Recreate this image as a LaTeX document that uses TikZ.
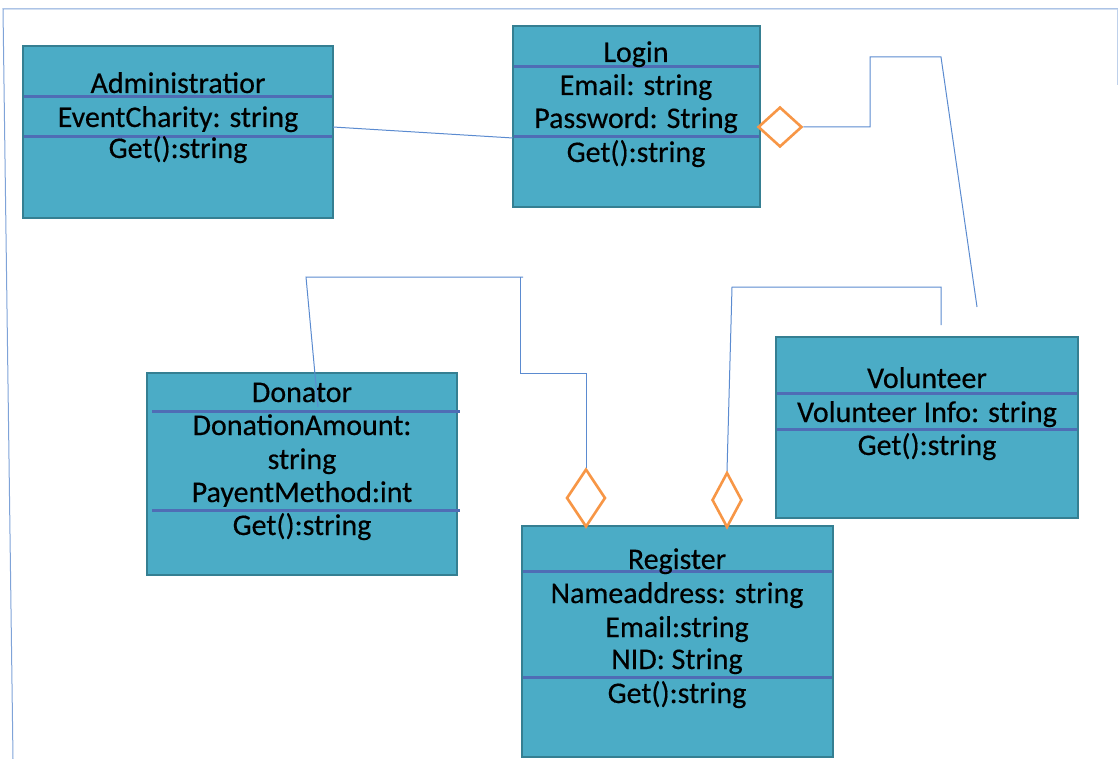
\documentclass[tikz,border=0pt]{standalone}
\usepackage{fontspec}
\setmainfont{Carlito}[FakeBold=0.4]
\usetikzlibrary{shapes.geometric}
\definecolor{boxfill}{HTML}{4BACC6}
\definecolor{boxborder}{HTML}{357F92}
\definecolor{sepblue}{HTML}{4F6DB5}
\definecolor{connblue}{HTML}{5B8BD0}
\definecolor{aggorange}{HTML}{F79646}
\definecolor{frameblue}{HTML}{7FA3D8}
\begin{document}
\begin{tikzpicture}[x=1pt,y=-1pt,
  cls/.style={draw=boxborder,line width=2.5pt,fill=boxfill,inner sep=0pt},
  sepline/.style={draw=sepblue,line width=3pt},
  conn/.style={draw=connblue,line width=1pt},
  agg/.style={diamond,draw=aggorange,line width=2.6pt,fill=white,inner sep=0pt},
  txt/.style={anchor=base,inner sep=0pt,font=\fontsize{30}{34}\selectfont,text=black},
  frame/.style={draw=frameblue,line width=1pt}]
\useasboundingbox (0,0) rectangle (1118,759);
% frame
\coordinate (f1) at (3,9);
\coordinate (f2) at (1118,9);
\coordinate (f3) at (13,759);
\draw[frame] (f3) -- (f1) -- (f2);
\draw[draw=frameblue!50,line width=1pt] (1117,9) -- (1117,85);
% boxes
\node[cls,minimum width=310,minimum height=172] (adm) at (178,132) {};
\node[cls,minimum width=247,minimum height=181] (login) at (636.5,116.5) {};
\node[cls,minimum width=310,minimum height=202] (don) at (302,474) {};
\node[cls,minimum width=311,minimum height=231] (reg) at (677.5,641.5) {};
\node[cls,minimum width=302,minimum height=181] (vol) at (927,427.5) {};
% separators
\draw[sepline] (24,97) -- (332,97);
\draw[sepline] (24,137) -- (332,137);
\draw[sepline] (514,67) -- (759,67);
\draw[sepline] (514,137) -- (759,137);
\draw[sepline] (152,411) -- (460,411);
\draw[sepline] (152,510) -- (460,510);
\draw[sepline] (523,571) -- (832,571);
\draw[sepline] (523,677) -- (832,677);
\draw[sepline] (777,393) -- (1077,393);
\draw[sepline] (777,429) -- (1077,429);
% texts
\node[txt] (t1) at (178,93) {Administratior};
\node[txt] (t2) at (178,127) {EventCharity: string};
\node[txt] (t3) at (178,158) {Get():string};
\node[txt] (t4) at (636,62) {Login};
\node[txt] (t5) at (636,95) {Email: string};
\node[txt] (t6) at (636,128) {Password: String};
\node[txt] (t7) at (636,162) {Get():string};
\node[txt] (t8) at (302,402) {Donator};
\node[txt] (t9) at (302,435) {DonationAmount:};
\node[txt] (t10) at (302,469) {string};
\node[txt] (t11) at (302,502) {PayentMethod:int};
\node[txt] (t12) at (302,535) {Get():string};
\node[txt] (t13) at (677,569) {Register};
\node[txt] (t14) at (677,603) {Nameaddress: string};
\node[txt] (t15) at (677,637) {Email:string};
\node[txt] (t16) at (677,669) {NID: String};
\node[txt] (t17) at (677,703) {Get():string};
\node[txt] (t18) at (927,388) {Volunteer};
\node[txt] (t19) at (927,422) {Volunteer Info: string};
\node[txt] (t20) at (927,455) {Get():string};
% diamonds
\node[agg,minimum width=44,minimum height=40] (d1) at (780,127) {};
\node[agg,minimum width=39,minimum height=58] (d2) at (586,498) {};
\node[agg,minimum width=30,minimum height=55] (d3) at (727,500) {};
% connectors
\coordinate (a1) at (333,127);
\coordinate (a2) at (513,138);
\draw[conn] (a1) -- (a2);
\coordinate (l1) at (870,127);
\coordinate (l2) at (870,57);
\coordinate (l3) at (941,57);
\coordinate (l4) at (977,307);
\draw[conn] (d1.east) -- (l1) -- (l2) -- (l3) -- (l4);
\coordinate (p0) at (318,407);
\coordinate (p1) at (306,277);
\coordinate (p2) at (520,277);
\coordinate (p2b) at (523,277);
\coordinate (p3) at (520,373);
\coordinate (p4) at (586,373);
\draw[conn] (p0) -- (p1) -- (p2b);
\draw[conn] (p2) -- (p3) -- (p4) -- (d2.north);
\coordinate (v1) at (732,287);
\coordinate (v2) at (941,287);
\coordinate (v3) at (941,325);
\draw[conn] (d3.north) -- (v1) -- (v2) -- (v3);
\end{tikzpicture}
\end{document}
